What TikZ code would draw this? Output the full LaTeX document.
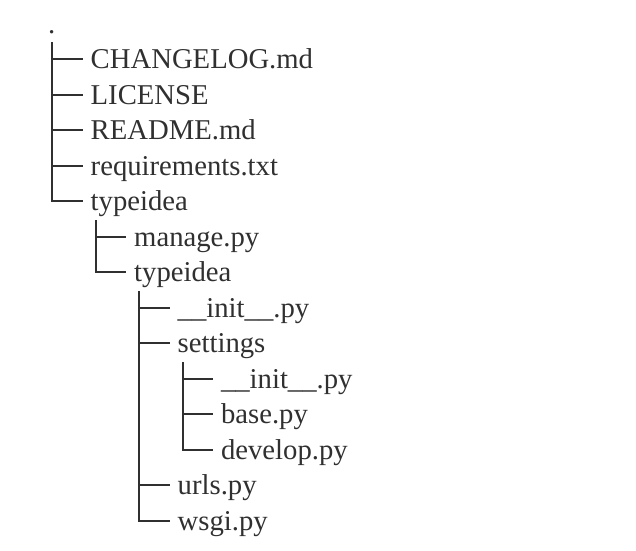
\documentclass[tikz,border=0pt]{standalone}
\usepackage{fontspec}
\setmainfont{Liberation Serif}
\definecolor{ink}{HTML}{303030}

\begin{document}
\begin{tikzpicture}[x=1pt,y=-1pt,line cap=butt,line join=miter,
    entry/.style={anchor=west,inner xsep=8pt,inner ysep=0pt,
      text height=19pt,text depth=0pt,text=ink,
      font=\fontsize{28.7}{34}\selectfont},
    branch/.style={draw=ink,line width=2pt}]
  \useasboundingbox (0,0) rectangle (636,550);

  % Root of the tree.
  \node[inner sep=0pt,text=ink,font=\fontsize{28.7}{34}\selectfont] (root) at (51.7,32.3) {.};

  % First level.
  \node[entry] (changelog) at (82.5,59.3)  {CHANGELOG.md};
  \node[entry] (license)   at (82.5,94.8)  {LICENSE};
  \node[entry] (readme)    at (82.5,130.3) {README.md};
  \node[entry] (reqs)      at (82.5,165.8) {requirements.txt};
  \node[entry] (project)   at (82.5,201.3) {typeidea};

  % Project folder.
  \node[entry] (manage)    at (126,236.8) {manage.py};
  \node[entry] (package)   at (126,272.3) {typeidea};

  % Package folder.
  \node[entry] (pkginit)   at (169.5,307.8) {\_\_init\_\_.py};
  \node[entry] (settings)  at (169.5,343.3) {settings};
  \node[entry] (urls)      at (169.5,485.3) {urls.py};
  \node[entry] (wsgi)      at (169.5,520.8) {wsgi.py};

  % Settings folder.
  \node[entry] (setinit)   at (212.8,378.8) {\_\_init\_\_.py};
  \node[entry] (base)      at (212.8,414.3) {base.py};
  \node[entry] (develop)   at (212.8,449.8) {develop.py};

  % Branches.
  \foreach \child in {changelog,license,readme,reqs,project}
    \draw[branch] ([yshift=-8pt]root.south) |- (\child.west);
  \foreach \child in {manage,package}
    \draw[branch] ([xshift=13pt,yshift=-18.7pt]project.west) |- (\child.west);
  \foreach \child in {pkginit,settings,urls,wsgi}
    \draw[branch] ([xshift=13pt,yshift=-18.7pt]package.west) |- (\child.west);
  \foreach \child in {setinit,base,develop}
    \draw[branch] ([xshift=13pt,yshift=-18.7pt]settings.west) |- (\child.west);
\end{tikzpicture}
\end{document}
